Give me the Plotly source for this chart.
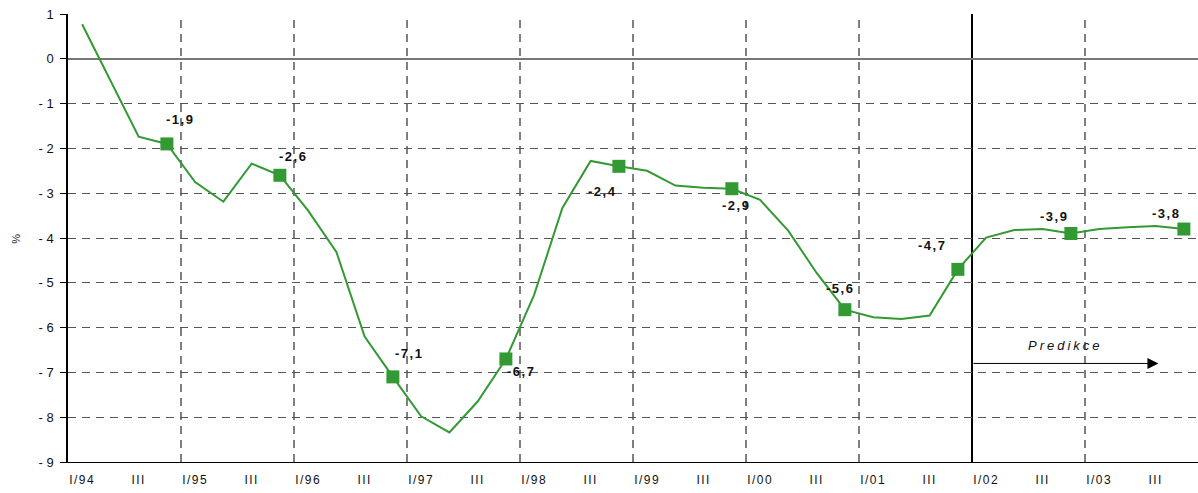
import plotly.graph_objects as go

# Quarterly balance, I/94 .. IV/03 (40 quarters)
years = ["94", "95", "96", "97", "98", "99", "00", "01", "02", "03"]
quarters = [f"{q}/{y}" for y in years for q in ("I", "II", "III", "IV")]

values = [
    0.77, -0.48, -1.74, -1.9,
    -2.75, -3.19, -2.34, -2.6,
    -3.39, -4.31, -6.2, -7.1,
    -7.98, -8.34, -7.65, -6.7,
    -5.27, -3.33, -2.28, -2.4,
    -2.5, -2.83, -2.88, -2.9,
    -3.15, -3.84, -4.78, -5.6,
    -5.77, -5.81, -5.73, -4.7,
    -3.99, -3.82, -3.8, -3.9,
    -3.8, -3.76, -3.73, -3.8,
]

# Year-end quarters highlighted with a marker and value label
marked_idx = [3, 7, 11, 15, 19, 23, 27, 31, 35, 39]
marked_labels = ["-1,9", "-2,6", "-7,1", "-6,7", "-2,4", "-2,9", "-5,6", "-4,7", "-3,9", "-3,8"]

# Axis labels: only quarters I and III are labelled
tick_idx = [i for i, q in enumerate(quarters) if q.split("/")[0] in ("I", "III")]
tick_text = [quarters[i] if quarters[i].startswith("I/") else "III" for i in tick_idx]

y_ticks = list(range(-9, 2))
y_tick_text = [("- " + str(-v)) if v < 0 else str(v) for v in y_ticks]

forecast_start = 32  # I/02
forecast_arrow_end = 38.1
forecast_arrow_y = -6.8

GREEN = "#339933"
FONT = "Liberation Sans, Arial, sans-serif"

x = list(range(len(quarters)))
fig = go.Figure()

fig.add_trace(go.Scatter(
    x=x, y=values, mode="lines",
    line=dict(color=GREEN, width=2),
    hoverinfo="skip", showlegend=False,
))
fig.add_trace(go.Scatter(
    x=marked_idx, y=[values[i] for i in marked_idx], mode="markers",
    marker=dict(symbol="square", size=13, color=GREEN),
    showlegend=False,
))

# label offsets (px) relative to each marker
label_shift = [(13, 24), (13, 19), (16, 23), (15, -13), (-16, -25), (4, -17), (-5, 21), (-26, 24), (-17, 17), (-18, 16)]
for i, txt, (dx, dy) in zip(marked_idx, marked_labels, label_shift):
    fig.add_annotation(
        x=i, y=values[i], text=f"<b>{txt}</b>", showarrow=False,
        xshift=dx, yshift=dy, font=dict(family=FONT, size=13, color="#111"),
    )

# vertical separators between years (every 4 quarters)
for b in range(4, len(quarters), 4):
    solid = b == forecast_start
    fig.add_shape(
        type="line", xref="x", yref="y", x0=b - 0.5, x1=b - 0.5, y0=-9, y1=1,
        line=dict(color="#000", width=2 if solid else 1, dash="solid" if solid else "8px,6px"),
        layer="below",
    )

# forecast arrow
fig.add_annotation(
    x=forecast_arrow_end, y=forecast_arrow_y, ax=forecast_start - 0.5, ay=forecast_arrow_y,
    xref="x", yref="y", axref="x", ayref="y",
    text="", showarrow=True, arrowhead=2, arrowsize=2.2, arrowwidth=1, arrowcolor="#000",
)
fig.add_annotation(
    x=(forecast_start - 0.5 + forecast_arrow_end) / 2, y=forecast_arrow_y, text="<i>Predikce</i>",
    showarrow=False, yshift=18, font=dict(family=FONT, size=13, color="#111"),
)

fig.add_annotation(
    xref="paper", yref="paper", x=0, y=0.5, xshift=-60, text="%", textangle=-90,
    showarrow=False, font=dict(family=FONT, size=11, color="#111"),
)

fig.update_layout(
    width=1198, height=493,
    margin=dict(l=68, r=0, t=14, b=31),
    paper_bgcolor="white", plot_bgcolor="white",
    font=dict(family=FONT, size=13, color="#111"),
    xaxis=dict(
        range=[-0.5, len(quarters) - 0.5], tickmode="array", tickvals=tick_idx, ticktext=tick_text,
        showgrid=False, zeroline=False, showline=True, linecolor="#000", linewidth=1,
        ticks="", tickfont=dict(size=12), ticklabelstandoff=7, fixedrange=True,
    ),
    yaxis=dict(
        range=[-9, 1], tickmode="array", tickvals=y_ticks, ticktext=y_tick_text,
        showgrid=True, gridcolor="#555", griddash="8px,6px", gridwidth=1,
        zeroline=True, zerolinecolor="#777", zerolinewidth=2,
        showline=True, linecolor="#000", linewidth=1.5,
        ticks="outside", ticklen=6, tickcolor="#000", tickfont=dict(size=13),
        ticklabelstandoff=4, fixedrange=True,
    ),
)

# widen the letter spacing of category labels and annotations
spacing_js = """
var gd = document.getElementById('{plot_id}');
gd.querySelectorAll('.xtick text').forEach(function (t) { t.style.letterSpacing = '1.5px'; });
gd.querySelectorAll('.annotation-text').forEach(function (t) {
  t.style.letterSpacing = t.textContent.indexOf('Predikce') >= 0 ? '3px' : '1.5px';
});
"""

fig.write_html("out.html", post_script=spacing_js)
